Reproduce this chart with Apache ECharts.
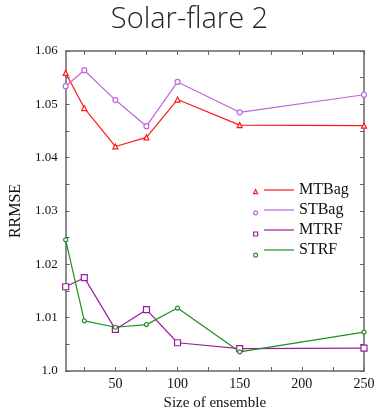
<!DOCTYPE html>
<html>
<head>
<meta charset="utf-8">
<script src="https://cdn.jsdelivr.net/npm/echarts@6/dist/echarts.min.js"></script>
<style>html,body{margin:0;padding:0;background:#fff}#c{width:379px;height:418px}</style>
</head>
<body>
<div id="c"></div>
<script>
const sizes = [10, 25, 50, 75, 100, 150, 250];
const MTBag = [1.0559, 1.0493, 1.0421, 1.0438, 1.0509, 1.0461, 1.0460];
const STBag = [1.0534, 1.0564, 1.0508, 1.0459, 1.0542, 1.0485, 1.0518];
const MTRF  = [1.0158, 1.0175, 1.0078, 1.0115, 1.0053, 1.0042, 1.0043];
const STRF  = [1.0246, 1.0094, 1.0082, 1.0087, 1.0118, 1.0036, 1.0073];
const xLabels = [50, 100, 150, 200, 250];
const xTicks = [25, 50, 75, 100, 125, 150, 175, 200, 225, 250];
const yLabels = [1.0, 1.01, 1.02, 1.03, 1.04, 1.05, 1.06];
const yTicks = [1.0, 1.005, 1.01, 1.015, 1.02, 1.025, 1.03, 1.035, 1.04, 1.045, 1.05, 1.055, 1.06];

const names = ['MTBag', 'STBag', 'MTRF', 'STRF'];
const colors = ['#ff1a1a', '#c066dd', '#9b1f9b', '#1f8f1f'];
const symbols = ['triangle', 'circle', 'rect', 'circle'];
const symSizes = [5, 5, 6, 4];
const legSizes = [4, 4, 4, 3];
const datas = [MTBag, STBag, MTRF, STRF];

const serif = 'Liberation Serif';
const axisColor = '#666';

function pairs(arr) { return sizes.map((s, i) => [s, arr[i]]); }

const chart = echarts.init(document.getElementById('c'), null, {renderer: 'canvas'});
const series = names.map((n, i) => ({
  name: n,
  type: 'line',
  data: pairs(datas[i]),
  symbol: symbols[i],
  symbolSize: symSizes[i],
  showAllSymbol: true,
  lineStyle: {color: colors[i], width: 1.2},
  itemStyle: {color: '#fff', borderColor: colors[i], borderWidth: 1.2},
  emphasis: {disabled: true},
  animation: false
}));

const commonX = {
  type: 'value', min: 10, max: 250,
  axisLine: {lineStyle: {color: axisColor, width: 1.5}},
  splitLine: {show: false}
};
const commonY = {
  type: 'value', min: 1.0, max: 1.06,
  axisLine: {lineStyle: {color: axisColor, width: 1.5}},
  splitLine: {show: false}
};

chart.setOption({
  animation: false,
  title: {
    text: 'Solar-flare 2', left: 'center', top: 0,
    textStyle: {fontFamily: 'Open Sans', fontWeight: 300, fontSize: 29, color: '#222'}
  },
  grid: {left: 62, right: 15, top: 51, bottom: 47},
  legend: [
    {
      orient: 'vertical', left: 248, top: 184, itemGap: 16, itemWidth: 4, itemHeight: 4,
      data: names.map((n, i) => ({name: n, icon: symbols[i],
        itemStyle: {color: '#fff', borderColor: colors[i], borderWidth: 1.2}})),
      formatter: () => '',
      textStyle: {fontSize: 1}
    },
    {
      orient: 'vertical', left: 259, top: 177, itemGap: 4, itemWidth: 30, itemHeight: 1.2,
      data: names.map((n, i) => ({name: n, icon: 'rect',
        itemStyle: {color: colors[i], borderWidth: 0}})),
      textStyle: {fontFamily: serif, fontSize: 16, color: '#111'}
    }
  ],
  xAxis: [
    Object.assign({}, commonX, {
      position: 'bottom',
      name: 'Size of ensemble', nameLocation: 'middle', nameGap: 24,
      nameTextStyle: {fontFamily: serif, fontSize: 15, color: '#111'},
      axisTick: {inside: true, length: 4, customValues: xTicks, lineStyle: {color: axisColor}},
      axisLabel: {customValues: xLabels, fontFamily: serif, fontSize: 14, color: '#111', margin: 6}
    }),
    Object.assign({}, commonX, {
      position: 'top',
      axisTick: {inside: true, length: 4, customValues: xTicks, lineStyle: {color: axisColor}},
      axisLabel: {show: false}
    })
  ],
  yAxis: [
    Object.assign({}, commonY, {
      position: 'left',
      name: 'RRMSE', nameLocation: 'middle', nameGap: 38,
      nameTextStyle: {fontFamily: serif, fontSize: 16, color: '#111'},
      axisTick: {inside: true, length: 4, customValues: yTicks, lineStyle: {color: axisColor}},
      axisLabel: {customValues: yLabels, fontFamily: serif, fontSize: 13, color: '#111', margin: 8,
        formatter: v => (Math.abs(v - 1) < 1e-9 ? '1.0' : v.toFixed(2))}
    }),
    Object.assign({}, commonY, {
      position: 'right',
      axisTick: {inside: true, length: 4, customValues: yTicks, lineStyle: {color: axisColor}},
      axisLabel: {show: false}
    })
  ],
  series: series
});
</script>
</body>
</html>
